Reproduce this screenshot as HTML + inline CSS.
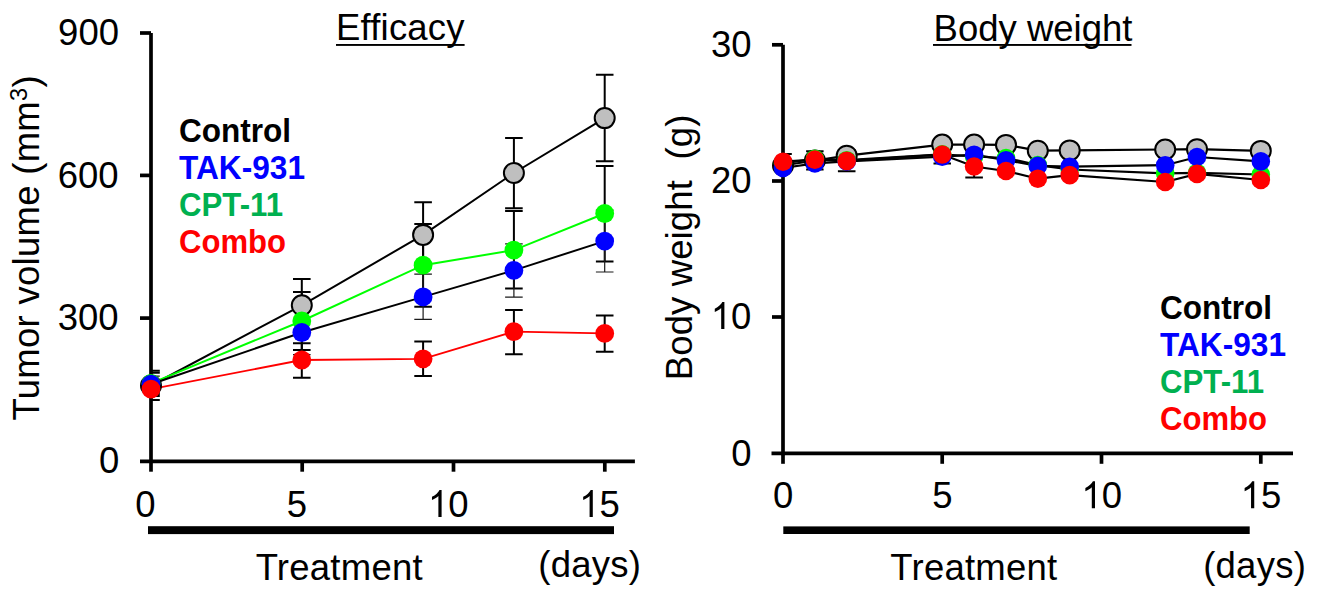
<!DOCTYPE html><html><head><meta charset="utf-8"><title>Efficacy and body weight</title>
<style>html,body{margin:0;padding:0;background:#fff;}svg{display:block}text{font-family:"Liberation Sans",sans-serif;fill:#000}.b{font-weight:bold}</style></head><body>
<svg width="1328" height="607" viewBox="0 0 1328 607">
<rect width="1328" height="607" fill="#fff"/>
<g stroke="#000" stroke-width="3.7" fill="none" stroke-linecap="butt">
<path d="M151 33V463.1"/>
<path d="M140 461.3H634.9"/>
<path d="M140 33H151"/>
<path d="M140 175.4H151"/>
<path d="M140 318.1H151"/>
<path d="M151.0 461.3V471.7"/>
<path d="M302.2 461.3V471.7"/>
<path d="M453.5 461.3V471.7"/>
<path d="M604.8 461.3V471.7"/>
</g>
<path d="M151.0 370.8V400.0M151.0 370.8H159.8M151.0 400.0H159.8M301.8 279.1V331.3M293.0 279.1H310.6M293.0 331.3H310.6M423.1 202.3V267.5M414.3 202.3H431.9M414.3 267.5H431.9M513.9 138.0V208.3M505.1 138.0H522.7M505.1 208.3H522.7M604.7 74.8V161.3M595.9 74.8H613.5M595.9 161.3H613.5" fill="none" stroke="#000" stroke-width="2.0"/>
<path d="M151.0 372.8V394.0M151.0 372.8H159.8M151.0 394.0H159.8M301.8 291.9V350.0M293.0 291.9H310.6M293.0 350.0H310.6M423.1 223.9V306.8M414.3 223.9H431.9M414.3 306.8H431.9M513.9 211.1V288.5M505.1 211.1H522.7M505.1 288.5H522.7M604.7 165.9V261.6M595.9 165.9H613.5M595.9 261.6H613.5" fill="none" stroke="#000" stroke-width="2.0"/>
<path d="M151.0 376.1V392.5M151.0 376.1H159.8M151.0 392.5H159.8M301.8 310.4V354.6M293.0 310.4H310.6M293.0 354.6H310.6M423.1 274.2V319.3M414.3 274.2H431.9M414.3 319.3H431.9M513.9 243.9V297.2M505.1 243.9H522.7M505.1 297.2H522.7M604.7 210.2V272.0M595.9 210.2H613.5M595.9 272.0H613.5" fill="none" stroke="#1a1a1a" stroke-width="1.2"/>
<path d="M151.0 382.0V395.9M151.0 382.0H159.8M151.0 395.9H159.8M301.8 343.3V377.7M293.0 343.3H310.6M293.0 377.7H310.6M423.1 341.6V376.1M414.3 341.6H431.9M414.3 376.1H431.9M513.9 310.1V354.2M505.1 310.1H522.7M505.1 354.2H522.7M604.7 315.4V351.7M595.9 315.4H613.5M595.9 351.7H613.5" fill="none" stroke="#000" stroke-width="2.0"/>
<polyline points="151.0,385.5 301.8,305.3 423.1,234.9 513.9,173.0 604.7,118.1" fill="none" stroke="#000" stroke-width="2.0"/>
<polyline points="151.0,383.3 301.8,321.0 423.1,265.2 513.9,250.1 604.7,213.5" fill="none" stroke="#00ff00" stroke-width="2.0"/>
<polyline points="151.0,384.2 301.8,332.5 423.1,296.9 513.9,270.4 604.7,241.1" fill="none" stroke="#000" stroke-width="2.0"/>
<polyline points="151.0,389.1 301.8,360.0 423.1,358.8 513.9,331.6 604.7,333.4" fill="none" stroke="#ff0000" stroke-width="1.8"/>
<circle cx="151.0" cy="385.5" r="10" fill="#bfbfbf" stroke="#000" stroke-width="2"/>
<circle cx="301.8" cy="305.3" r="10" fill="#bfbfbf" stroke="#000" stroke-width="2"/>
<circle cx="423.1" cy="234.9" r="10" fill="#bfbfbf" stroke="#000" stroke-width="2"/>
<circle cx="513.9" cy="173.0" r="10" fill="#bfbfbf" stroke="#000" stroke-width="2"/>
<circle cx="604.7" cy="118.1" r="10" fill="#bfbfbf" stroke="#000" stroke-width="2"/>
<circle cx="151.0" cy="383.3" r="9.4" fill="#00ff00"/>
<circle cx="301.8" cy="321.0" r="9.4" fill="#00ff00"/>
<circle cx="423.1" cy="265.2" r="9.4" fill="#00ff00"/>
<circle cx="513.9" cy="250.1" r="9.4" fill="#00ff00"/>
<circle cx="604.7" cy="213.5" r="9.4" fill="#00ff00"/>
<circle cx="151.0" cy="384.2" r="9.4" fill="#0000ff"/>
<circle cx="301.8" cy="332.5" r="9.4" fill="#0000ff"/>
<circle cx="423.1" cy="296.9" r="9.4" fill="#0000ff"/>
<circle cx="513.9" cy="270.4" r="9.4" fill="#0000ff"/>
<circle cx="604.7" cy="241.1" r="9.4" fill="#0000ff"/>
<circle cx="151.0" cy="389.1" r="9.4" fill="#ff0000"/>
<circle cx="301.8" cy="360.0" r="9.4" fill="#ff0000"/>
<circle cx="423.1" cy="358.8" r="9.4" fill="#ff0000"/>
<circle cx="513.9" cy="331.6" r="9.4" fill="#ff0000"/>
<circle cx="604.7" cy="333.4" r="9.4" fill="#ff0000"/>
<text transform="translate(58.10,44.8) scale(1,1.03)" font-size="36.5">9</text>
<text transform="translate(78.40,44.8) scale(1,1.03)" font-size="36.5">0</text>
<text transform="translate(98.70,44.8) scale(1,1.03)" font-size="36.5">0</text>
<text transform="translate(57.70,188.2) scale(1,1.03)" font-size="36.5">6</text>
<text transform="translate(78.00,188.2) scale(1,1.03)" font-size="36.5">0</text>
<text transform="translate(98.30,188.2) scale(1,1.03)" font-size="36.5">0</text>
<text transform="translate(57.70,329.8) scale(1,1.03)" font-size="36.5">3</text>
<text transform="translate(78.00,329.8) scale(1,1.03)" font-size="36.5">0</text>
<text transform="translate(98.30,329.8) scale(1,1.03)" font-size="36.5">0</text>
<text transform="translate(98.90,472.8) scale(1,1.03)" font-size="36.5">0</text>
<text transform="translate(135.35,517.1) scale(1,1.03)" font-size="36.5">0</text>
<text transform="translate(286.65,517.1) scale(1,1.03)" font-size="36.5">5</text>
<path transform="translate(428.00,517.1) scale(0.017822,-0.018357)" d="M763 0H583V1147Q518 1085 412.5 1023Q307 961 223 930V1104Q374 1175 487 1276Q600 1377 647 1472H763Z" fill="#000"/>
<text transform="translate(448.30,517.1) scale(1,1.03)" font-size="36.5">0</text>
<path transform="translate(579.20,517.1) scale(0.017822,-0.018357)" d="M763 0H583V1147Q518 1085 412.5 1023Q307 961 223 930V1104Q374 1175 487 1276Q600 1377 647 1472H763Z" fill="#000"/>
<text transform="translate(599.50,517.1) scale(1,1.03)" font-size="36.5">5</text>
<text x="400.4" y="40.2" font-size="36.5" text-anchor="middle" letter-spacing="0.2">Efficacy</text>
<rect x="336" y="44" width="128.6" height="1.9" fill="#000"/>
<rect x="148" y="526.2" width="466" height="7.9" fill="#000"/>
<text x="339.3" y="580" font-size="36.5" text-anchor="middle" letter-spacing="0.25">Treatment</text>
<text x="589.8" y="577.4" font-size="36.5" text-anchor="middle" letter-spacing="0.25">(days)</text>
<text transform="translate(39.3,247.8) rotate(-90)" font-size="36.5" text-anchor="middle" letter-spacing="0.28">Tumor volume (mm<tspan font-size="23.5" dy="-12.8">3</tspan><tspan dy="12.8">)</tspan></text>
<text x="179" y="142.3" font-size="33" class="b" style="fill:#000" textLength="112" lengthAdjust="spacingAndGlyphs">Control</text>
<text x="179" y="179.3" font-size="33" class="b" style="fill:#0000ff" textLength="126" lengthAdjust="spacingAndGlyphs">TAK-931</text>
<text x="179" y="215.5" font-size="33" class="b" style="fill:#00b050" textLength="104" lengthAdjust="spacingAndGlyphs">CPT-11</text>
<text x="179" y="252.5" font-size="33" class="b" style="fill:#ff0000" textLength="107" lengthAdjust="spacingAndGlyphs">Combo</text>
<g stroke="#000" stroke-width="3.7" fill="none">
<path d="M783 44.8V455.2"/>
<path d="M771.5 453.3H1293"/>
<path d="M772 44.8H783"/>
<path d="M772 181.0H783"/>
<path d="M772 317.0H783"/>
<path d="M783.0 453.3V463.8"/>
<path d="M942.2 453.3V463.8"/>
<path d="M1101.5 453.3V463.8"/>
<path d="M1260.8 453.3V463.8"/>
</g>
<path d="M783.0 154.0V170.0M783.0 154.0H791.8M783.0 170.0H791.8" fill="none" stroke="#000" stroke-width="2.0"/>
<path d="M814.9 151.3V169.5M806.1 151.3H823.6M806.1 169.5H823.6M846.7 150.0V171.2M837.9 150.0H855.5M837.9 171.2H855.5M942.2 148.0V163.5M933.5 148.0H951.0M933.5 163.5H951.0" fill="none" stroke="#000" stroke-width="2.0"/>
<path d="M974.1 155.5V177.5M965.3 155.5H982.9M965.3 177.5H982.9" fill="none" stroke="#000" stroke-width="2.0"/>
<polyline points="783.0,165.5 814.9,160.5 846.7,155.7 942.2,144.6 974.1,144.6 1006.0,144.9 1037.8,150.7 1069.7,150.4 1165.2,149.5 1197.0,149.2 1260.8,150.9" fill="none" stroke="#000" stroke-width="2.2"/>
<polyline points="783.0,163.5 814.9,158.7 846.7,160.2 942.2,154.4 974.1,156.5 1006.0,158.0 1037.8,165.1 1069.7,169.5 1165.2,173.4 1197.0,172.8 1260.8,174.5" fill="none" stroke="#000" stroke-width="2.2"/>
<polyline points="783.0,168.0 814.9,163.4 846.7,161.4 942.2,156.7 974.1,154.7 1006.0,160.2 1037.8,165.9 1069.7,166.7 1165.2,165.2 1197.0,157.0 1260.8,161.4" fill="none" stroke="#000" stroke-width="2.2"/>
<polyline points="783.0,161.7 814.9,159.6 846.7,160.9 942.2,154.5 974.1,166.5 1006.0,171.0 1037.8,178.7 1069.7,175.1 1165.2,182.0 1197.0,173.9 1260.8,180.0" fill="none" stroke="#000" stroke-width="2.2"/>
<circle cx="783.0" cy="165.5" r="10" fill="#bfbfbf" stroke="#000" stroke-width="2"/>
<circle cx="814.9" cy="160.5" r="10" fill="#bfbfbf" stroke="#000" stroke-width="2"/>
<circle cx="846.7" cy="155.7" r="10" fill="#bfbfbf" stroke="#000" stroke-width="2"/>
<circle cx="942.2" cy="144.6" r="10" fill="#bfbfbf" stroke="#000" stroke-width="2"/>
<circle cx="974.1" cy="144.6" r="10" fill="#bfbfbf" stroke="#000" stroke-width="2"/>
<circle cx="1006.0" cy="144.9" r="10" fill="#bfbfbf" stroke="#000" stroke-width="2"/>
<circle cx="1037.8" cy="150.7" r="10" fill="#bfbfbf" stroke="#000" stroke-width="2"/>
<circle cx="1069.7" cy="150.4" r="10" fill="#bfbfbf" stroke="#000" stroke-width="2"/>
<circle cx="1165.2" cy="149.5" r="10" fill="#bfbfbf" stroke="#000" stroke-width="2"/>
<circle cx="1197.0" cy="149.2" r="10" fill="#bfbfbf" stroke="#000" stroke-width="2"/>
<circle cx="1260.8" cy="150.9" r="10" fill="#bfbfbf" stroke="#000" stroke-width="2"/>
<circle cx="783.0" cy="163.5" r="9.3" fill="#00ff00"/>
<circle cx="814.9" cy="158.7" r="9.3" fill="#00ff00"/>
<circle cx="846.7" cy="160.2" r="9.3" fill="#00ff00"/>
<circle cx="942.2" cy="154.4" r="9.3" fill="#00ff00"/>
<circle cx="974.1" cy="156.5" r="9.3" fill="#00ff00"/>
<circle cx="1006.0" cy="158.0" r="9.3" fill="#00ff00"/>
<circle cx="1037.8" cy="165.1" r="9.3" fill="#00ff00"/>
<circle cx="1069.7" cy="169.5" r="9.3" fill="#00ff00"/>
<circle cx="1165.2" cy="173.4" r="9.3" fill="#00ff00"/>
<circle cx="1197.0" cy="172.8" r="9.3" fill="#00ff00"/>
<circle cx="1260.8" cy="174.5" r="9.3" fill="#00ff00"/>
<circle cx="783.0" cy="168.0" r="9.3" fill="#0000ff"/>
<circle cx="814.9" cy="163.4" r="9.3" fill="#0000ff"/>
<circle cx="846.7" cy="161.4" r="9.3" fill="#0000ff"/>
<circle cx="942.2" cy="156.7" r="9.3" fill="#0000ff"/>
<circle cx="974.1" cy="154.7" r="9.3" fill="#0000ff"/>
<circle cx="1006.0" cy="160.2" r="9.3" fill="#0000ff"/>
<circle cx="1037.8" cy="165.9" r="9.3" fill="#0000ff"/>
<circle cx="1069.7" cy="166.7" r="9.3" fill="#0000ff"/>
<circle cx="1165.2" cy="165.2" r="9.3" fill="#0000ff"/>
<circle cx="1197.0" cy="157.0" r="9.3" fill="#0000ff"/>
<circle cx="1260.8" cy="161.4" r="9.3" fill="#0000ff"/>
<circle cx="783.0" cy="161.7" r="9.3" fill="#ff0000"/>
<circle cx="814.9" cy="159.6" r="9.3" fill="#ff0000"/>
<circle cx="846.7" cy="160.9" r="9.3" fill="#ff0000"/>
<circle cx="942.2" cy="154.5" r="9.3" fill="#ff0000"/>
<circle cx="974.1" cy="166.5" r="9.3" fill="#ff0000"/>
<circle cx="1006.0" cy="171.0" r="9.3" fill="#ff0000"/>
<circle cx="1037.8" cy="178.7" r="9.3" fill="#ff0000"/>
<circle cx="1069.7" cy="175.1" r="9.3" fill="#ff0000"/>
<circle cx="1165.2" cy="182.0" r="9.3" fill="#ff0000"/>
<circle cx="1197.0" cy="173.9" r="9.3" fill="#ff0000"/>
<circle cx="1260.8" cy="180.0" r="9.3" fill="#ff0000"/>
<text transform="translate(710.90,57.0) scale(1,1.03)" font-size="36.5">3</text>
<text transform="translate(731.20,57.0) scale(1,1.03)" font-size="36.5">0</text>
<text transform="translate(710.90,193.2) scale(1,1.03)" font-size="36.5">2</text>
<text transform="translate(731.20,193.2) scale(1,1.03)" font-size="36.5">0</text>
<path transform="translate(710.80,329) scale(0.017822,-0.018357)" d="M763 0H583V1147Q518 1085 412.5 1023Q307 961 223 930V1104Q374 1175 487 1276Q600 1377 647 1472H763Z" fill="#000"/>
<text transform="translate(731.10,329) scale(1,1.03)" font-size="36.5">0</text>
<text transform="translate(731.20,466) scale(1,1.03)" font-size="36.5">0</text>
<text transform="translate(773.05,508.2) scale(1,1.03)" font-size="36.5">0</text>
<text transform="translate(932.30,508.2) scale(1,1.03)" font-size="36.5">5</text>
<path transform="translate(1081.40,508.2) scale(0.017822,-0.018357)" d="M763 0H583V1147Q518 1085 412.5 1023Q307 961 223 930V1104Q374 1175 487 1276Q600 1377 647 1472H763Z" fill="#000"/>
<text transform="translate(1101.70,508.2) scale(1,1.03)" font-size="36.5">0</text>
<path transform="translate(1240.65,508.2) scale(0.017822,-0.018357)" d="M763 0H583V1147Q518 1085 412.5 1023Q307 961 223 930V1104Q374 1175 487 1276Q600 1377 647 1472H763Z" fill="#000"/>
<text transform="translate(1260.95,508.2) scale(1,1.03)" font-size="36.5">5</text>
<text x="1033" y="40.5" font-size="36.5" text-anchor="middle" >Body weight</text>
<rect x="933" y="44" width="198.5" height="1.9" fill="#000"/>
<rect x="783.3" y="526.4" width="466.4" height="7.6" fill="#000"/>
<text x="973.9" y="579.5" font-size="36.5" text-anchor="middle" letter-spacing="0.25">Treatment</text>
<text x="1254.6" y="577.8" font-size="36.5" text-anchor="middle" letter-spacing="0.25">(days)</text>
<text transform="translate(692,247.4) rotate(-90)" font-size="36.5" text-anchor="middle" letter-spacing="0.12" xml:space="preserve">Body weight  (g)</text>
<text x="1160" y="319.4" font-size="33" class="b" style="fill:#000" textLength="112" lengthAdjust="spacingAndGlyphs">Control</text>
<text x="1160" y="356.3" font-size="33" class="b" style="fill:#0000ff" textLength="126" lengthAdjust="spacingAndGlyphs">TAK-931</text>
<text x="1160" y="392.5" font-size="33" class="b" style="fill:#00b050" textLength="104" lengthAdjust="spacingAndGlyphs">CPT-11</text>
<text x="1160" y="429.5" font-size="33" class="b" style="fill:#ff0000" textLength="107" lengthAdjust="spacingAndGlyphs">Combo</text>
</svg></body></html>
